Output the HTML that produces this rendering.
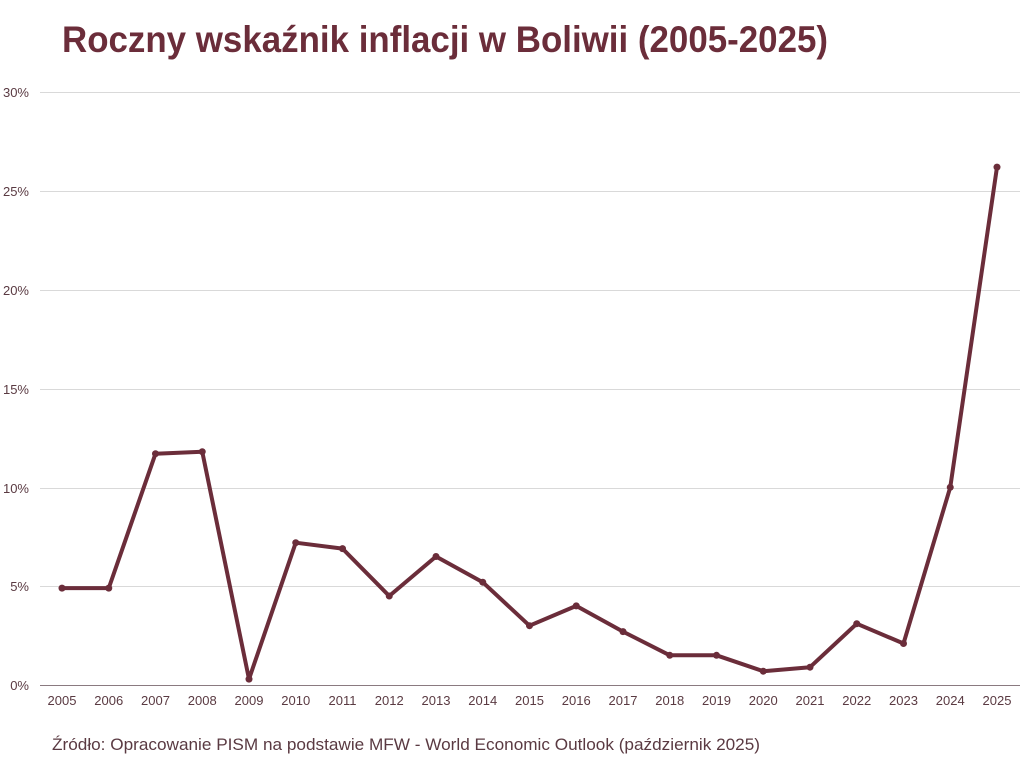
<!DOCTYPE html>
<html><head><meta charset="utf-8"><style>body{margin:0;background:#fff}svg{display:block}</style></head><body>
<svg width="1024" height="768" xmlns="http://www.w3.org/2000/svg" font-family="'Liberation Sans', sans-serif">
<text x="62" y="52" font-size="37" font-weight="bold" fill="#6b2d3a" textLength="766" lengthAdjust="spacingAndGlyphs">Roczny wskaźnik inflacji w Boliwii (2005-2025)</text>
<g stroke="#d9d9d9" stroke-width="1">
<line x1="40" x2="1020" y1="92.5" y2="92.5"/>
<line x1="40" x2="1020" y1="191.5" y2="191.5"/>
<line x1="40" x2="1020" y1="290.5" y2="290.5"/>
<line x1="40" x2="1020" y1="389.5" y2="389.5"/>
<line x1="40" x2="1020" y1="488.5" y2="488.5"/>
<line x1="40" x2="1020" y1="586.5" y2="586.5"/>
</g>
<line x1="40" x2="1020" y1="685.5" y2="685.5" stroke="#8a7a80" stroke-width="1"/>
<g font-size="13" fill="#5a3a42" text-anchor="end">
<text x="29" y="97">30%</text><text x="29" y="196">25%</text><text x="29" y="295">20%</text>
<text x="29" y="394">15%</text><text x="29" y="493">10%</text><text x="29" y="591">5%</text><text x="29" y="690">0%</text>
</g>
<g font-size="13" fill="#5a3a42" text-anchor="middle">
<text x="62" y="705">2005</text><text x="108.75" y="705">2006</text><text x="155.5" y="705">2007</text><text x="202.25" y="705">2008</text><text x="249" y="705">2009</text><text x="295.75" y="705">2010</text><text x="342.5" y="705">2011</text><text x="389.25" y="705">2012</text><text x="436" y="705">2013</text><text x="482.75" y="705">2014</text><text x="529.5" y="705">2015</text><text x="576.25" y="705">2016</text><text x="623" y="705">2017</text><text x="669.75" y="705">2018</text><text x="716.5" y="705">2019</text><text x="763.25" y="705">2020</text><text x="810" y="705">2021</text><text x="856.75" y="705">2022</text><text x="903.5" y="705">2023</text><text x="950.25" y="705">2024</text><text x="997" y="705">2025</text>
</g>
<polyline fill="none" stroke="#6b2d3a" stroke-width="4" stroke-linejoin="round" points="62,588.1 108.75,588.1 155.5,453.7 202.25,451.7 249,679.1 295.75,542.7 342.5,548.6 389.25,596 436,556.5 482.75,582.2 529.5,625.7 576.25,605.9 623,631.6 669.75,655.3 716.5,655.3 763.25,671.2 810,667.2 856.75,623.7 903.5,643.5 950.25,487.3 997,167.1"/>
<g fill="#6b2d3a">
<circle cx="62" cy="588.1" r="3.5"/><circle cx="108.75" cy="588.1" r="3.5"/><circle cx="155.5" cy="453.7" r="3.5"/><circle cx="202.25" cy="451.7" r="3.5"/><circle cx="249" cy="679.1" r="3.5"/><circle cx="295.75" cy="542.7" r="3.5"/><circle cx="342.5" cy="548.6" r="3.5"/><circle cx="389.25" cy="596" r="3.5"/><circle cx="436" cy="556.5" r="3.5"/><circle cx="482.75" cy="582.2" r="3.5"/><circle cx="529.5" cy="625.7" r="3.5"/><circle cx="576.25" cy="605.9" r="3.5"/><circle cx="623" cy="631.6" r="3.5"/><circle cx="669.75" cy="655.3" r="3.5"/><circle cx="716.5" cy="655.3" r="3.5"/><circle cx="763.25" cy="671.2" r="3.5"/><circle cx="810" cy="667.2" r="3.5"/><circle cx="856.75" cy="623.7" r="3.5"/><circle cx="903.5" cy="643.5" r="3.5"/><circle cx="950.25" cy="487.3" r="3.5"/><circle cx="997" cy="167.1" r="3.5"/>
</g>
<text x="52" y="750" font-size="17" fill="#5a3a42" textLength="708" lengthAdjust="spacingAndGlyphs">Źródło: Opracowanie PISM na podstawie MFW - World Economic Outlook (październik 2025)</text>
</svg>
</body></html>
